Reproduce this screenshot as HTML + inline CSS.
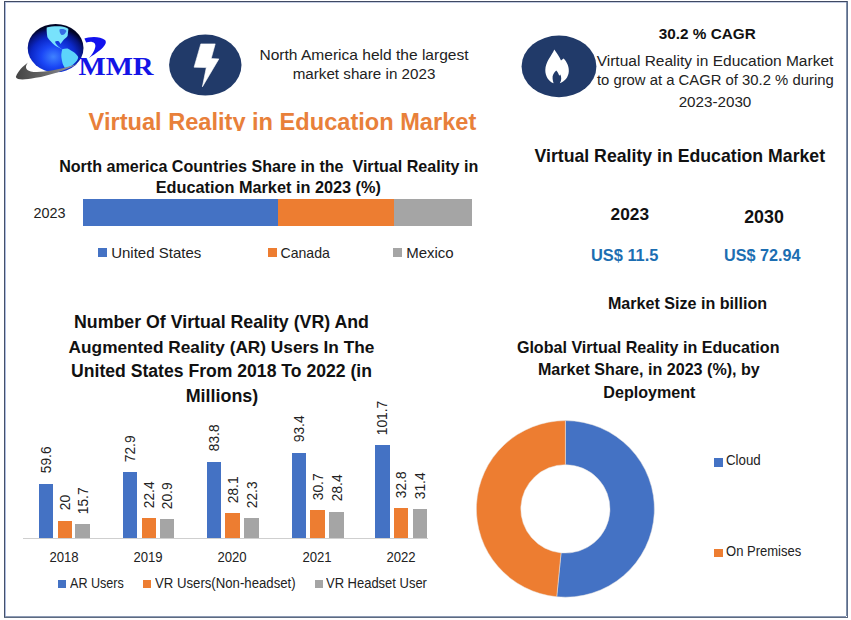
<!DOCTYPE html>
<html><head><meta charset="utf-8"><title>Virtual Reality in Education Market</title>
<style>
html,body{margin:0;padding:0;background:#fff;}
body{width:851px;height:620px;position:relative;overflow:hidden;font-family:"Liberation Sans", sans-serif;}
.a{position:absolute;}
.t{position:absolute;white-space:nowrap;}
</style></head><body>
<div class="a" style="left:4px;top:1px;width:844px;height:1px;background:#3f4962"></div>
<div class="a" style="left:5px;top:2px;width:841px;height:1px;background:#c4cde3"></div>
<div class="a" style="left:4px;top:1px;width:1px;height:617px;background:#45506a"></div>
<div class="a" style="left:5px;top:2px;width:1px;height:614px;background:#aebde0"></div>
<div class="a" style="left:846px;top:2px;width:1px;height:614px;background:#8090aa"></div>
<div class="a" style="left:847px;top:1px;width:1px;height:617px;background:#5b6b88"></div>
<div class="a" style="left:5px;top:616px;width:841px;height:1px;background:#8d9bb5"></div>
<div class="a" style="left:4px;top:617px;width:844px;height:1px;background:#5d6a80"></div>
<svg class="a" style="left:10px;top:15px" width="150" height="75" viewBox="0 0 150 75">
<defs>
<radialGradient id="gl" cx="0.46" cy="0.68" r="0.62">
<stop offset="0" stop-color="#3f82ff"/><stop offset="0.35" stop-color="#1a46f5"/><stop offset="0.65" stop-color="#0b28c8"/><stop offset="0.86" stop-color="#06137a"/><stop offset="1" stop-color="#010425"/>
</radialGradient>
<linearGradient id="sw" x1="0" y1="0" x2="1" y2="0"><stop offset="0" stop-color="#444"/><stop offset="0.5" stop-color="#6a6a6a"/><stop offset="1" stop-color="#9a9aa8"/></linearGradient>
</defs>
<ellipse cx="45.6" cy="33.1" rx="27.9" ry="24.2" fill="url(#gl)"/>
<path d="M36.7 12.5 C 40 11.5, 48 10.8, 52.2 11.6 C 55 12.2, 57.5 13, 58.4 13.9 L 57.6 21 C 56 23, 54 24.5, 53.1 25.4 L 50.5 28.9 L 49 26.5 C 47.5 25.8, 46 26, 45 26.8 C 45.5 29, 47.5 31, 49.5 32.5 L 53.1 35.1 L 48.7 32.5 C 46 31.5, 43.5 29.5, 40.7 26.3 C 38.5 24, 37.2 22.5, 37.2 21 C 36.8 18, 36.5 15, 36.7 12.5 Z" fill="#78e2fc"/>
<path d="M49.5 14.5 C 52 13.5, 55 14, 56.5 16 C 55.5 18.5, 53.5 20.5, 51.5 20 C 50 18.5, 49.3 16.5, 49.5 14.5 Z" fill="#2a58e0" opacity="0.85"/>
<path d="M52.2 34.3 C 54 33.5, 56 33.3, 57.6 33.4 C 60 34.5, 63 36.5, 64.6 37.8 C 66.5 39.5, 68 41, 68.2 42.2 C 68 43.5, 67.5 44.5, 67.3 44.9 C 65.5 47, 63.5 49.5, 61.1 51.1 C 59 52, 57 52.7, 54.9 52.9 C 53.5 50.5, 52.5 48.5, 52.2 46.7 C 51.5 44, 51.2 41.5, 51.3 39.6 C 51.5 37.5, 51.8 36, 52.2 34.3 Z" fill="#5cd4fb"/>
<path d="M5.8 62 C 8 56, 13 51, 18 47.5 C 15 51, 15 55, 20.8 56.4 C 28 58, 45 56, 63.1 50.3 L 67.8 48.9 C 55 55, 40 60.5, 25.5 62.8 C 15 64.8, 7.5 65.5, 5.8 62 Z" fill="url(#sw)"/>
<path d="M74.4 23.5 C 78 21.8, 90 20.5, 95 25 C 97.5 28, 95 33, 79 42.9 C 82 39.5, 84.5 36.5, 85.3 32 C 85.8 29, 84.5 27, 82 26.9 C 80 26.8, 78 27, 76.2 27.4 Z" fill="#1212ee"/>
<text x="68.5" y="60" font-family="Liberation Serif" font-weight="bold" font-size="24.4" fill="#1414e6" transform="translate(68.5 0) scale(1.18 1) translate(-68.5 0)">MMR</text>
</svg>
<svg class="a" style="left:0;top:0" width="851" height="620" viewBox="0 0 851 620">
<ellipse cx="205.3" cy="65.1" rx="36.2" ry="30.5" fill="#213a69"/>
<path d="M200.8 43.9 L215.2 43.9 L211.2 58.6 L218.9 58.9 L202.4 86.8 L206.3 67.6 L194.1 67.2 Z" fill="#fff" stroke="#fff" stroke-width="0.6" stroke-linejoin="round"/>
<ellipse cx="559" cy="66.4" rx="37.4" ry="30.8" fill="#213a69"/>
<path d="M554.3 49.6 C 556 52.5, 559.5 56.5, 561 60.5 L 563.6 58.6 C 567 62, 569.2 67, 568.8 71.5 C 568.4 77.5, 564.5 81.5, 559.8 83.2 C 561.8 80.5, 561.5 77, 560.3 74.6 L 559.2 75.8 C 558.6 73.5, 557.5 71.8, 556.2 70.5 C 553.8 72.5, 552.2 75.5, 552.6 78.5 C 552.8 80.5, 553.3 82, 553.6 83.2 C 548.5 81.5, 545.2 76, 545.3 70 C 545.5 62, 551.5 56, 554.3 49.6 Z" fill="#fff"/>
</svg>
<div class="t" style="left:64px;width:600px;text-align:center;top:45.58px;font-size:15.55px;line-height:18.66px;font-weight:normal;color:#222;">North America held the largest</div>
<div class="t" style="left:64px;width:600px;text-align:center;top:64.91px;font-size:15.2px;line-height:18.24px;font-weight:normal;color:#222;">market share in 2023</div>
<div class="a" style="left:0;top:100px;width:600px;height:30.5px;overflow:hidden">
<div class="t" style="left:88.6px;top:7.56px;font-size:23.6px;line-height:28.32px;font-weight:bold;color:#E8803A">Virtual Reality in Education Market</div>
</div>
<div class="t" style="left:407.29999999999995px;width:600px;text-align:center;top:24.72px;font-size:15.3px;line-height:18.36px;font-weight:bold;color:#111;">30.2 % CAGR</div>
<div class="t" style="left:415.0px;width:600px;text-align:center;top:52.13px;font-size:15.5px;line-height:18.6px;font-weight:normal;color:#222;">Virtual Reality in Education Market</div>
<div class="t" style="left:415.29999999999995px;width:600px;text-align:center;top:72.34px;font-size:14.85px;line-height:17.82px;font-weight:normal;color:#222;">to grow at a CAGR of 30.2 % during</div>
<div class="t" style="left:415px;width:600px;text-align:center;top:93.01px;font-size:15.2px;line-height:18.24px;font-weight:normal;color:#222;">2023-2030</div>
<div class="t" style="left:-31.30000000000001px;width:600px;text-align:center;top:156.66px;font-size:16.1px;line-height:19.32px;font-weight:bold;color:#111;">North america Countries Share in the&nbsp; Virtual Reality in</div>
<div class="t" style="left:-31.69999999999999px;width:600px;text-align:center;top:177.87px;font-size:16.3px;line-height:19.56px;font-weight:bold;color:#111;">Education Market in 2023 (%)</div>
<div class="t" style="left:33.6px;top:205.17px;font-size:14.4px;line-height:17.28px;font-weight:normal;color:#222;">2023</div>
<div class="a" style="left:82.8px;top:199.2px;width:195px;height:26.4px;background:#4472C4"></div>
<div class="a" style="left:277.8px;top:199.2px;width:116.4px;height:26.4px;background:#ED7D31"></div>
<div class="a" style="left:394.2px;top:199.2px;width:77.4px;height:26.4px;background:#A5A5A5"></div>
<div class="a" style="left:98.0px;top:248.3px;width:8.7px;height:8.7px;background:#4472C4"></div>
<div class="t" style="left:111.2px;top:243.70px;font-size:15px;line-height:18.0px;font-weight:normal;color:#222;">United States</div>
<div class="a" style="left:268.2px;top:248.3px;width:8.7px;height:8.7px;background:#ED7D31"></div>
<div class="t" style="left:280.5px;top:244.55px;font-size:14.1px;line-height:16.92px;font-weight:normal;color:#222;">Canada</div>
<div class="a" style="left:393.0px;top:248.3px;width:8.7px;height:8.7px;background:#A5A5A5"></div>
<div class="t" style="left:406.2px;top:243.70px;font-size:15px;line-height:18.0px;font-weight:normal;color:#222;">Mexico</div>
<div class="t" style="left:379.79999999999995px;width:600px;text-align:center;top:145.95px;font-size:17.7px;line-height:21.24px;font-weight:bold;color:#111;">Virtual Reality in Education Market</div>
<div class="t" style="left:329.79999999999995px;width:600px;text-align:center;top:204.03px;font-size:17.3px;line-height:20.76px;font-weight:bold;color:#111;">2023</div>
<div class="t" style="left:464px;width:600px;text-align:center;top:206.55px;font-size:17.8px;line-height:21.36px;font-weight:bold;color:#111;">2030</div>
<div class="t" style="left:324.70000000000005px;width:600px;text-align:center;top:246.28px;font-size:16.4px;line-height:19.68px;font-weight:bold;color:#1c6eb2;">US$ 11.5</div>
<div class="t" style="left:462.29999999999995px;width:600px;text-align:center;top:246.47px;font-size:16.2px;line-height:19.44px;font-weight:bold;color:#1c6eb2;">US$ 72.94</div>
<div class="t" style="left:387.5px;width:600px;text-align:center;top:293.56px;font-size:16.1px;line-height:19.32px;font-weight:bold;color:#111;">Market Size in billion</div>
<div class="t" style="left:-78.5px;width:600px;text-align:center;top:311.90px;font-size:17.75px;line-height:21.3px;font-weight:bold;color:#111;">Number Of Virtual Reality (VR) And</div>
<div class="t" style="left:-78.5px;width:600px;text-align:center;top:336.57px;font-size:17.25px;line-height:20.7px;font-weight:bold;color:#111;">Augmented Reality (AR) Users In The</div>
<div class="t" style="left:-78.5px;width:600px;text-align:center;top:361.04px;font-size:17.6px;line-height:21.12px;font-weight:bold;color:#111;">United States From 2018 To 2022 (in</div>
<div class="t" style="left:-78px;width:600px;text-align:center;top:385.76px;font-size:17.9px;line-height:21.48px;font-weight:bold;color:#111;">Millions)</div>
<div class="a" style="left:22.6px;top:538px;width:405.5px;height:1px;background:#cfcfcf"></div>
<div class="a" style="left:39.2px;top:483.5px;width:14.3px;height:54.2px;background:#4472C4"></div>
<div class="a" style="left:47.4px;top:473.5px;width:0;height:0"><div class="t" style="left:0;top:-8.28px;font-size:13.8px;line-height:16.56px;color:#222;transform-origin:0 50%;transform:rotate(-90deg)">59.6</div></div>
<div class="a" style="left:58.0px;top:520.5px;width:14.3px;height:17.2px;background:#ED7D31"></div>
<div class="a" style="left:66.2px;top:510.5px;width:0;height:0"><div class="t" style="left:0;top:-8.28px;font-size:13.8px;line-height:16.56px;color:#222;transform-origin:0 50%;transform:rotate(-90deg)">20</div></div>
<div class="a" style="left:75.4px;top:524.1px;width:14.3px;height:13.6px;background:#A5A5A5"></div>
<div class="a" style="left:83.6px;top:514.1px;width:0;height:0"><div class="t" style="left:0;top:-8.28px;font-size:13.8px;line-height:16.56px;color:#222;transform-origin:0 50%;transform:rotate(-90deg)">15.7</div></div>
<div class="t" style="left:-235.6px;width:600px;text-align:center;top:548.78px;font-size:14.6px;line-height:17.52px;font-weight:normal;color:#222;transform:scaleX(0.9);transform-origin:50% 50%;">2018</div>
<div class="a" style="left:122.9px;top:471.9px;width:14.3px;height:65.8px;background:#4472C4"></div>
<div class="a" style="left:131.1px;top:461.9px;width:0;height:0"><div class="t" style="left:0;top:-8.28px;font-size:13.8px;line-height:16.56px;color:#222;transform-origin:0 50%;transform:rotate(-90deg)">72.9</div></div>
<div class="a" style="left:141.6px;top:517.9px;width:14.3px;height:19.8px;background:#ED7D31"></div>
<div class="a" style="left:149.8px;top:507.9px;width:0;height:0"><div class="t" style="left:0;top:-8.28px;font-size:13.8px;line-height:16.56px;color:#222;transform-origin:0 50%;transform:rotate(-90deg)">22.4</div></div>
<div class="a" style="left:160.2px;top:519.2px;width:14.3px;height:18.5px;background:#A5A5A5"></div>
<div class="a" style="left:168.3px;top:509.2px;width:0;height:0"><div class="t" style="left:0;top:-8.28px;font-size:13.8px;line-height:16.56px;color:#222;transform-origin:0 50%;transform:rotate(-90deg)">20.9</div></div>
<div class="t" style="left:-151.9px;width:600px;text-align:center;top:548.78px;font-size:14.6px;line-height:17.52px;font-weight:normal;color:#222;transform:scaleX(0.9);transform-origin:50% 50%;">2019</div>
<div class="a" style="left:206.8px;top:461.7px;width:14.3px;height:76.0px;background:#4472C4"></div>
<div class="a" style="left:215.0px;top:451.7px;width:0;height:0"><div class="t" style="left:0;top:-8.28px;font-size:13.8px;line-height:16.56px;color:#222;transform-origin:0 50%;transform:rotate(-90deg)">83.8</div></div>
<div class="a" style="left:225.4px;top:513.2px;width:14.3px;height:24.5px;background:#ED7D31"></div>
<div class="a" style="left:233.6px;top:503.2px;width:0;height:0"><div class="t" style="left:0;top:-8.28px;font-size:13.8px;line-height:16.56px;color:#222;transform-origin:0 50%;transform:rotate(-90deg)">28.1</div></div>
<div class="a" style="left:244.4px;top:518.0px;width:14.3px;height:19.7px;background:#A5A5A5"></div>
<div class="a" style="left:252.6px;top:508.0px;width:0;height:0"><div class="t" style="left:0;top:-8.28px;font-size:13.8px;line-height:16.56px;color:#222;transform-origin:0 50%;transform:rotate(-90deg)">22.3</div></div>
<div class="t" style="left:-68.0px;width:600px;text-align:center;top:548.78px;font-size:14.6px;line-height:17.52px;font-weight:normal;color:#222;transform:scaleX(0.9);transform-origin:50% 50%;">2020</div>
<div class="a" style="left:291.8px;top:452.7px;width:14.3px;height:85.0px;background:#4472C4"></div>
<div class="a" style="left:299.9px;top:442.7px;width:0;height:0"><div class="t" style="left:0;top:-8.28px;font-size:13.8px;line-height:16.56px;color:#222;transform-origin:0 50%;transform:rotate(-90deg)">93.4</div></div>
<div class="a" style="left:310.4px;top:510.3px;width:14.3px;height:27.4px;background:#ED7D31"></div>
<div class="a" style="left:318.5px;top:500.3px;width:0;height:0"><div class="t" style="left:0;top:-8.28px;font-size:13.8px;line-height:16.56px;color:#222;transform-origin:0 50%;transform:rotate(-90deg)">30.7</div></div>
<div class="a" style="left:329.4px;top:511.7px;width:14.3px;height:26.0px;background:#A5A5A5"></div>
<div class="a" style="left:337.5px;top:501.7px;width:0;height:0"><div class="t" style="left:0;top:-8.28px;font-size:13.8px;line-height:16.56px;color:#222;transform-origin:0 50%;transform:rotate(-90deg)">28.4</div></div>
<div class="t" style="left:17.0px;width:600px;text-align:center;top:548.78px;font-size:14.6px;line-height:17.52px;font-weight:normal;color:#222;transform:scaleX(0.9);transform-origin:50% 50%;">2021</div>
<div class="a" style="left:375.3px;top:445.0px;width:14.3px;height:92.7px;background:#4472C4"></div>
<div class="a" style="left:383.4px;top:435.0px;width:0;height:0"><div class="t" style="left:0;top:-8.28px;font-size:13.8px;line-height:16.56px;color:#222;transform-origin:0 50%;transform:rotate(-90deg)">101.7</div></div>
<div class="a" style="left:394.1px;top:508.0px;width:14.3px;height:29.7px;background:#ED7D31"></div>
<div class="a" style="left:402.2px;top:498.0px;width:0;height:0"><div class="t" style="left:0;top:-8.28px;font-size:13.8px;line-height:16.56px;color:#222;transform-origin:0 50%;transform:rotate(-90deg)">32.8</div></div>
<div class="a" style="left:413.2px;top:509.2px;width:14.3px;height:28.5px;background:#A5A5A5"></div>
<div class="a" style="left:421.3px;top:499.2px;width:0;height:0"><div class="t" style="left:0;top:-8.28px;font-size:13.8px;line-height:16.56px;color:#222;transform-origin:0 50%;transform:rotate(-90deg)">31.4</div></div>
<div class="t" style="left:100.5px;width:600px;text-align:center;top:548.78px;font-size:14.6px;line-height:17.52px;font-weight:normal;color:#222;transform:scaleX(0.9);transform-origin:50% 50%;">2022</div>
<div class="a" style="left:58.2px;top:579.6px;width:8.3px;height:8.3px;background:#4472C4"></div>
<div class="t" style="left:70px;top:575.94px;font-size:13.8px;line-height:16.56px;font-weight:normal;color:#222;transform:scaleX(0.912);transform-origin:0 50%;">AR Users</div>
<div class="a" style="left:142.8px;top:579.6px;width:8.3px;height:8.3px;background:#ED7D31"></div>
<div class="t" style="left:154.6px;top:575.94px;font-size:13.8px;line-height:16.56px;font-weight:normal;color:#222;transform:scaleX(0.955);transform-origin:0 50%;">VR Users(Non-headset)</div>
<div class="a" style="left:315.1px;top:579.6px;width:8.3px;height:8.3px;background:#A5A5A5"></div>
<div class="t" style="left:326.2px;top:575.94px;font-size:13.8px;line-height:16.56px;font-weight:normal;color:#222;transform:scaleX(0.94);transform-origin:0 50%;">VR Headset User</div>
<div class="t" style="left:348.20000000000005px;width:600px;text-align:center;top:337.76px;font-size:16.1px;line-height:19.32px;font-weight:bold;color:#111;">Global Virtual Reality in Education</div>
<div class="t" style="left:348.9px;width:600px;text-align:center;top:360.06px;font-size:16.1px;line-height:19.32px;font-weight:bold;color:#111;">Market Share, in 2023 (%), by</div>
<div class="t" style="left:349.4px;width:600px;text-align:center;top:383.46px;font-size:16.1px;line-height:19.32px;font-weight:bold;color:#111;">Deployment</div>
<svg class="a" style="left:0;top:0" width="851" height="620"><path d="M565.4 420.59999999999997 A89 88.3 0 1 1 556.72 596.78 L561.05 552.89 A44.6 44.2 0 1 0 565.4 464.7 Z" fill="#4472C4" stroke="#e8e4e0" stroke-width="0.5"/><path d="M556.72 596.78 A89 88.3 0 0 1 565.4 420.59999999999997 L565.4 464.7 A44.6 44.2 0 0 0 561.05 552.89 Z" fill="#ED7D31" stroke="#e8e4e0" stroke-width="0.5"/></svg>
<div class="a" style="left:714.1px;top:457.8px;width:8.8px;height:8.8px;background:#4472C4"></div>
<div class="t" style="left:726.3px;top:452.15px;font-size:14px;line-height:16.8px;font-weight:normal;color:#222;transform:scaleX(0.95);transform-origin:0 50%;">Cloud</div>
<div class="a" style="left:714.1px;top:548.5px;width:8.8px;height:8.8px;background:#ED7D31"></div>
<div class="t" style="left:726.3px;top:543.35px;font-size:14px;line-height:16.8px;font-weight:normal;color:#222;transform:scaleX(0.93);transform-origin:0 50%;">On Premises</div>
</body></html>
